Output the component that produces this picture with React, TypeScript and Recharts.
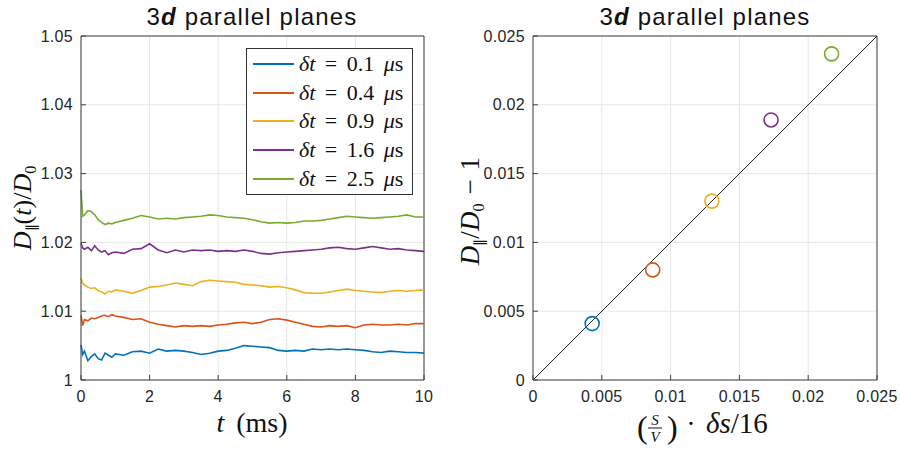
import { LineChart, Line, XAxis, YAxis, CartesianGrid, Legend, ReferenceLine, ScatterChart, Scatter } from 'recharts'

// time axis (ms), denser at the start where the curves move fast
const times = [0, 0.05, 0.1, 0.2, 0.3, 0.4, 0.5, 0.6, 0.7, 0.8, 0.9, 1.0,
  1.25, 1.5, 1.75, 2.0, 2.25, 2.5, 2.75, 3.0, 3.25, 3.5, 3.75, 4.0,
  4.25, 4.5, 4.75, 5.0, 5.25, 5.5, 5.75, 6.0, 6.25, 6.5, 6.75, 7.0,
  7.25, 7.5, 7.75, 8.0, 8.25, 8.5, 8.75, 9.0, 9.25, 9.5, 9.75, 10.0]

// D_par(t)/D0
const dt01 = [1.0051, 1.0037, 1.0042, 1.0028, 1.0034, 1.0038, 1.0031, 1.0029, 1.0039, 1.0036, 1.0033, 1.0038,
  1.0036, 1.0041, 1.0042, 1.0039, 1.0045, 1.0042, 1.0043, 1.0042, 1.0040, 1.0037, 1.0039, 1.0042,
  1.0043, 1.0046, 1.0050, 1.0049, 1.0048, 1.0047, 1.0043, 1.0042, 1.0043, 1.0042, 1.0045, 1.0044,
  1.0045, 1.0044, 1.0045, 1.0044, 1.0043, 1.0041, 1.0040, 1.0042, 1.0041, 1.0040, 1.0040, 1.0039]
const dt04 = [1.0094, 1.0079, 1.0088, 1.0086, 1.0090, 1.0089, 1.0091, 1.0093, 1.0094, 1.0092, 1.0095, 1.0093,
  1.0091, 1.0088, 1.0089, 1.0084, 1.0081, 1.0079, 1.0077, 1.0079, 1.0078, 1.0079, 1.0078, 1.0080,
  1.0081, 1.0083, 1.0084, 1.0082, 1.0084, 1.0088, 1.0089, 1.0087, 1.0084, 1.0081, 1.0078, 1.0077,
  1.0079, 1.0078, 1.0079, 1.0076, 1.0080, 1.0081, 1.0080, 1.0080, 1.0081, 1.0080, 1.0082, 1.0082]
const dt09 = [1.0148, 1.0141, 1.0138, 1.0135, 1.0133, 1.0134, 1.0130, 1.0128, 1.0125, 1.0129, 1.0128, 1.0131,
  1.0129, 1.0126, 1.0130, 1.0135, 1.0136, 1.0138, 1.0141, 1.0139, 1.0137, 1.0143, 1.0145, 1.0144,
  1.0143, 1.0142, 1.0139, 1.0138, 1.0137, 1.0135, 1.0136, 1.0134, 1.0131, 1.0127, 1.0126, 1.0126,
  1.0128, 1.0130, 1.0132, 1.0130, 1.0129, 1.0128, 1.0127, 1.0129, 1.0130, 1.0129, 1.0130, 1.0131]
const dt16 = [1.0199, 1.0192, 1.0190, 1.0193, 1.0188, 1.0195, 1.0189, 1.0186, 1.0188, 1.0182, 1.0185, 1.0186,
  1.0184, 1.0190, 1.0191, 1.0198, 1.0189, 1.0185, 1.0189, 1.0186, 1.0189, 1.0188, 1.0189, 1.0187,
  1.0188, 1.0187, 1.0189, 1.0187, 1.0184, 1.0183, 1.0185, 1.0186, 1.0187, 1.0188, 1.0189, 1.0190,
  1.0192, 1.0193, 1.0191, 1.0190, 1.0192, 1.0194, 1.0192, 1.0190, 1.0191, 1.0189, 1.0188, 1.0187]
const dt25 = [1.0276, 1.0238, 1.0240, 1.0246, 1.0245, 1.0240, 1.0233, 1.0229, 1.0226, 1.0228, 1.0227, 1.0229,
  1.0232, 1.0235, 1.0239, 1.0237, 1.0234, 1.0235, 1.0234, 1.0236, 1.0237, 1.0238, 1.0240, 1.0239,
  1.0237, 1.0236, 1.0235, 1.0233, 1.0230, 1.0228, 1.0229, 1.0228, 1.0229, 1.0231, 1.0231, 1.0232,
  1.0234, 1.0236, 1.0238, 1.0237, 1.0236, 1.0235, 1.0236, 1.0237, 1.0238, 1.0240, 1.0237, 1.0237]

const dtValues = ['0.1', '0.4', '0.9', '1.6', '2.5']
const colors = ['#0072BD', '#D95319', '#EDB120', '#7E2F8E', '#77AC30']

const tTicks = [0, 2, 4, 6, 8, 10]
const dTicks = [1, 1.01, 1.02, 1.03, 1.04, 1.05]
const sTicks = [0, 0.005, 0.01, 0.015, 0.02, 0.025]

// right panel: predicted (x) vs measured (y) excess diffusivity
const predX = [0.0043, 0.0087, 0.0130, 0.0173, 0.0217]
const measY = [0.0041, 0.0080, 0.0130, 0.0189, 0.0237]

const rows = times.map((t, i) => ({
  t, s0: dt01[i], s1: dt04[i], s2: dt09[i], s3: dt16[i], s4: dt25[i],
}))
const points = predX.map((x, i) => ({ x, y: measY[i] }))

const AX = '#404040'
const GRID = '#e6e6e6'
const tickStyle = { fill: '#262626', fontSize: 16, fontFamily: 'Liberation Sans, Arial, sans-serif', letterSpacing: 0.3 }
const SERIF = 'Liberation Serif, Times New Roman, serif'

const Title = ({ cx }: { cx: number }) => (
  <div style={{
    position: 'absolute', left: cx - 160, top: 3, width: 320, textAlign: 'center',
    fontFamily: 'Liberation Sans, Arial, sans-serif', fontSize: 24, letterSpacing: 1.2, color: '#111',
  }}>
    3<b><i>d</i></b> parallel planes
  </div>
)

const LegendBox = (props: any) => (
  <div style={{ border: '1px solid #333', background: '#fff', width: 167, padding: '1px 0', boxSizing: 'border-box' }}>
    {(props.payload || []).map((p: any, i: number) => (
      <div key={p.value} style={{ display: 'flex', alignItems: 'center', height: 28.6 }}>
        <span style={{ width: 41, borderTop: `2px solid ${p.color}`, marginLeft: 6, marginRight: 5 }} />
        <span style={{ fontFamily: SERIF, fontSize: 22, wordSpacing: 4, color: '#111', whiteSpace: 'pre' }}>
          <i>δt</i> = {dtValues[i]} <i>μ</i>s
        </span>
      </div>
    ))}
  </div>
)

const LeftYLabel = () => (
  <text x={31} y={208} transform="rotate(-90, 31, 208)" textAnchor="middle" fontFamily={SERIF} fontSize={26} fill="#111">
    <tspan fontStyle="italic">D</tspan>
    <tspan fontSize={14} dy={5}>∥</tspan>
    <tspan dy={-5}>(</tspan>
    <tspan fontStyle="italic">t</tspan>
    <tspan>)/</tspan>
    <tspan fontStyle="italic">D</tspan>
    <tspan fontSize={16} dy={5}>0</tspan>
  </text>
)

const LeftXLabel = () => (
  <text x={252} y={432} textAnchor="middle" fontFamily={SERIF} fontSize={28} fill="#111" wordSpacing={5}>
    <tspan fontStyle="italic">t</tspan> (ms)
  </text>
)

const RightYLabel = () => (
  <text x={29} y={211} transform="rotate(-90, 29, 211)" textAnchor="middle" fontFamily={SERIF} fontSize={27} fill="#111">
    <tspan fontStyle="italic">D</tspan>
    <tspan fontSize={14} dy={5}>∥</tspan>
    <tspan dy={-5}>/</tspan>
    <tspan fontStyle="italic">D</tspan>
    <tspan fontSize={16} dy={5}>0</tspan>
    <tspan dy={-5} dx={9}>−</tspan>
    <tspan dx={9}>1</tspan>
  </text>
)

const RightXLabel = () => (
  <g fontFamily={SERIF} fill="#111">
    <text x={187} y={438} fontSize={32}>(</text>
    <text x={205} y={425} fontSize={15} fontStyle="italic" textAnchor="middle">S</text>
    <line x1={198} x2={212} y1={428} y2={428} stroke="#111" strokeWidth={1} />
    <text x={205} y={442} fontSize={15} fontStyle="italic" textAnchor="middle">V</text>
    <text x={217} y={438} fontSize={32}>)</text>
    <text x={241} y={433} fontSize={28} textAnchor="middle">·</text>
    <text x={256} y={433} fontSize={29}>
      <tspan fontStyle="italic">δs</tspan>/16
    </text>
  </g>
)

const Ring = (props: any) => {
  const { cx, cy, fill } = props
  return <circle cx={cx} cy={cy} r={7} fill="none" stroke={fill} strokeWidth={1.6} />
}

export default function App() {
  return (
    <div style={{ position: 'absolute', left: 0, top: 0, width: 900, height: 450, background: '#fff' }}>
      <Title cx={252} />
      <Title cx={705} />
      <div style={{ position: 'absolute', left: 0, top: 0 }}>
        <LineChart width={450} height={450} data={rows} margin={{ top: 36, right: 26, left: 31, bottom: 40 }}>
          <CartesianGrid stroke={GRID} />
          <XAxis dataKey="t" type="number" domain={[0, 10]} ticks={tTicks} height={30}
            stroke={AX} tick={tickStyle} tickSize={-5} tickMargin={16}
            label={{ content: () => <LeftXLabel /> }} />
          <YAxis type="number" domain={[1, 1.05]} ticks={dTicks} width={50}
            stroke={AX} tick={tickStyle} tickSize={-5} tickMargin={13}
            tickFormatter={(v) => String(v)}
            label={{ content: () => <LeftYLabel /> }} />
          <ReferenceLine y={1.05} stroke={AX} />
          <ReferenceLine x={10} stroke={AX} />
          {colors.map((c, i) => (
            <Line key={i} type="linear" dataKey={`s${i}`} name={`δt = ${dtValues[i]} μs`} stroke={c}
              strokeWidth={1.6} dot={false} isAnimationActive={false} />
          ))}
          <Legend layout="vertical" align="center" verticalAlign="middle" content={<LegendBox />}
            wrapperStyle={{ left: 246, top: 48, width: 'auto' }} />
        </LineChart>
      </div>
      <div style={{ position: 'absolute', left: 450, top: 0 }}>
        <ScatterChart width={450} height={450} margin={{ top: 36, right: 23, left: 28, bottom: 40 }}>
          <CartesianGrid stroke={GRID} />
          <XAxis dataKey="x" type="number" domain={[0, 0.025]} ticks={sTicks} height={30}
            stroke={AX} tick={tickStyle} tickSize={-5} tickMargin={16}
            label={{ content: () => <RightXLabel /> }} />
          <YAxis dataKey="y" type="number" domain={[0, 0.025]} ticks={sTicks} width={55}
            stroke={AX} tick={tickStyle} tickSize={-5} tickMargin={13}
            label={{ content: () => <RightYLabel /> }} />
          <ReferenceLine y={0.025} stroke={AX} />
          <ReferenceLine x={0.025} stroke={AX} />
          <ReferenceLine segment={[{ x: 0, y: 0 }, { x: 0.025, y: 0.025 }]} stroke="#222" strokeWidth={1} />
          {points.map((p, i) => (
            <Scatter key={i} data={[p]} fill={colors[i]} shape={<Ring />} isAnimationActive={false} />
          ))}
        </ScatterChart>
      </div>
    </div>
  )
}
